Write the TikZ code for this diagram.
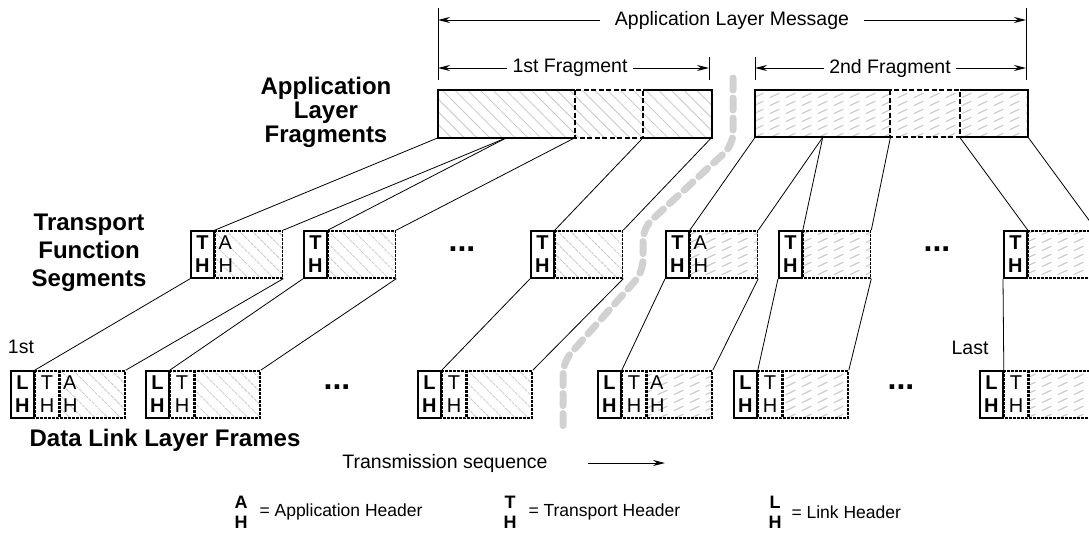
\documentclass[tikz,border=0pt]{standalone}
\usepackage{fontspec}
\setmainfont{Liberation Sans}
\usetikzlibrary{positioning,arrows.meta,patterns,patterns.meta}

% dashed slanted hatch for the second fragment
\pgfdeclarepatternformonly{slashdash}{\pgfpointorigin}{\pgfpoint{16pt}{8pt}}{\pgfpoint{16pt}{8pt}}{%
  \pgfsetlinewidth{1.3pt}%
  \pgfpathmoveto{\pgfpoint{2pt}{1.5pt}}%
  \pgfpathlineto{\pgfpoint{12pt}{6.5pt}}%
  \pgfusepath{stroke}}

\begin{document}
\begin{tikzpicture}[x=1pt, y=-1pt,
    lbl/.style = {inner ysep=0pt, font=\fontsize{19.5}{23}\selectfont},
    layer/.style = {align=center, font=\bfseries\fontsize{24}{24}\selectfont},
    dim/.style = {line width=1pt, -{Stealth[length=12pt,width=6pt]}},
    tick/.style = {line width=1pt},
    conn/.style = {line width=0.8pt},
    hatchA/.style = {pattern={Lines[angle=-45,distance=9pt,line width=0.8pt]}, pattern color=black!22},
    hatchB/.style = {pattern=slashdash, pattern color=black!20},
    bar/.style = {minimum height=47pt, inner sep=0pt},
    barline/.style = {line width=2pt},
    bardash/.style = {line width=2pt, dash pattern=on 5pt off 2.5pt},
    hbox/.style = {draw, line width=1.8pt, fill=white, minimum width=23pt, minimum height=47pt,
                   inner sep=0pt, align=center, font=\fontsize{20}{23}\selectfont},
    hboxb/.style = {hbox, font=\bfseries\fontsize{20}{23}\selectfont},
    hdash/.style = {hbox, line width=1.5pt, dash pattern=on 3pt off 1pt},
    data/.style = {draw, line width=1.5pt, dash pattern=on 3pt off 1pt, minimum height=47pt,
                   text width=61pt, inner xsep=3pt, inner ysep=0pt, align=left,
                   font=\fontsize{20}{23}\selectfont},
    fdata/.style = {data, text width=59pt},
    dots/.style = {font=\bfseries\fontsize{32}{32}\selectfont},
    seqpath/.style = {line width=7pt, black!18, dash pattern=on 12pt off 8pt, line cap=round, rounded corners=12pt},
    key/.style = {font=\fontsize{17.5}{20}\selectfont},
    keyb/.style = {align=center, font=\bfseries\fontsize{18}{20}\selectfont}]
\useasboundingbox (0,0) rectangle (1089,539);

% transmission order
\draw[seqpath] (733,78) -- (733,145) -- (643,228) -- (643,272) -- (563,362) -- (563,432);

% dimension lines
\coordinate (mL) at (438,8);
\coordinate (mLb) at (438,80);
\coordinate (mR) at (1026,8);
\coordinate (mRb) at (1026,80);
\coordinate (f1R) at (709,57);
\coordinate (f1Rb) at (709,80);
\coordinate (f2L) at (755,57);
\coordinate (f2Lb) at (755,80);
\draw[tick] (mL) -- (mLb);
\draw[tick] (mR) -- (mRb);
\draw[tick] (f1R) -- (f1Rb);
\draw[tick] (f2L) -- (f2Lb);
\node[lbl, inner xsep=15pt] (msg) at (732,20) {Application Layer Message};
\draw[dim] (msg.west) -- (msg.west -| mL);
\draw[dim] (msg.east) -- (msg.east -| mR);
\node[lbl, inner xsep=5pt] (fr1) at (570,68) {1st Fragment};
\draw[dim] (fr1.west) -- (fr1.west -| mL);
\draw[dim] (fr1.east) -- (fr1.east -| f1R);
\node[lbl, inner xsep=5pt] (fr2) at (890,68) {2nd Fragment};
\draw[dim] (fr2.west) -- (fr2.west -| f2L);
\draw[dim] (fr2.east) -- (fr2.east -| mR);

% application layer fragments
\node[bar, hatchA, minimum width=136pt, anchor=north west] (p1a) at (438,90) {};
\node[bar, hatchA, minimum width=68pt, right=0pt of p1a] (p1b) {};
\node[bar, hatchA, minimum width=68pt, right=0pt of p1b] (p1c) {};
\draw[barline] (p1a.north east) -| (p1a.south west) -- (p1a.south east);
\draw[barline] (p1c.north west) -- (p1c.north east) |- (p1c.south west);
\draw[bardash] (p1b.north west) rectangle (p1b.south east);
\node[bar, hatchB, minimum width=135pt, anchor=north west] (p2a) at (755,90) {};
\node[bar, hatchB, minimum width=69pt, right=0pt of p2a] (p2b) {};
\node[bar, hatchB, minimum width=68pt, right=0pt of p2b] (p2c) {};
\draw[barline] (p2a.north east) -| (p2a.south west) -- (p2a.south east);
\draw[barline] (p2c.north west) -- (p2c.north east) |- (p2c.south west);
\draw[bardash] (p2b.north west) rectangle (p2b.south east);

% transport function segments
\node[hboxb, anchor=north west] (s1t) at (190,230) {T\\H};
\node[data, hatchA, right=0pt of s1t] (s1d) {A\\H};
\node[hboxb, anchor=north west] (s2t) at (303,230) {T\\H};
\node[data, hatchA, right=0pt of s2t] (s2d) {};
\node[dots] (sdots1) at (462,249) {...};
\node[hboxb, anchor=north west] (s3t) at (530,230) {T\\H};
\node[data, hatchA, right=0pt of s3t] (s3d) {};
\node[hboxb, anchor=north west] (s4t) at (665,230) {T\\H};
\node[data, hatchB, right=0pt of s4t] (s4d) {A\\H};
\node[hboxb, anchor=north west] (s5t) at (778,230) {T\\H};
\node[data, hatchB, right=0pt of s5t] (s5d) {};
\node[dots] (sdots2) at (937,249) {...};
\node[hboxb, anchor=north west] (s6t) at (1003,230) {T\\H};
\node[data, hatchB, right=0pt of s6t] (s6d) {};

% data link layer frames
\node[hboxb, anchor=north west] (f1l) at (10,370) {L\\H};
\node[hdash, right=0pt of f1l] (f1t) {T\\H};
\node[fdata, hatchA, right=0pt of f1t] (f1d) {A\\H};
\node[hboxb, anchor=north west] (f2l) at (145,370) {L\\H};
\node[hdash, right=0pt of f2l] (f2t) {T\\H};
\node[fdata, hatchA, right=0pt of f2t] (f2d) {};
\node[dots] (fdots1) at (337,387) {...};
\node[hboxb, anchor=north west] (f3l) at (417,370) {L\\H};
\node[hdash, right=0pt of f3l] (f3t) {T\\H};
\node[fdata, hatchA, right=0pt of f3t] (f3d) {};
\node[hboxb, anchor=north west] (f4l) at (597,370) {L\\H};
\node[hdash, right=0pt of f4l] (f4t) {T\\H};
\node[fdata, hatchB, right=0pt of f4t] (f4d) {A\\H};
\node[hboxb, anchor=north west] (f5l) at (733,370) {L\\H};
\node[hdash, right=0pt of f5l] (f5t) {T\\H};
\node[fdata, hatchB, right=0pt of f5t] (f5d) {};
\node[dots] (fdots2) at (901,387) {...};
\node[hboxb, anchor=north west] (f6l) at (979,370) {L\\H};
\node[hdash, right=0pt of f6l] (f6t) {T\\H};
\node[fdata, hatchB, right=0pt of f6t] (f6d) {};

% fragments -> segments
\draw[conn] (p1a.south west) -- (s1d.north west);
\draw[conn] (p1a.south) -- (s1d.north east);
\draw[conn] (p1a.south) -- (s2d.north west);
\draw[conn] (p1a.south east) -- (s2d.north east);
\draw[conn] (p1c.south west) -- (s3d.north west);
\draw[conn] (p1c.south east) -- (s3d.north east);
\draw[conn] (p2a.south west) -- (s4d.north west);
\draw[conn] (p2a.south) -- (s4d.north east);
\draw[conn] (p2a.south) -- (s5d.north west);
\draw[conn] (p2a.south east) -- (s5d.north east);
\draw[conn] (p2c.south west) -- (s6d.north west);
\draw[conn] (p2c.south east) -- (s6d.north east);

% segments -> frames
\draw[conn] (s1t.south west) -- (f1t.north west);
\draw[conn] (s1d.south east) -- (f1d.north east);
\draw[conn] (s2t.south west) -- (f2t.north west);
\draw[conn] (s2d.south east) -- (f2d.north east);
\draw[conn] (s3t.south west) -- (f3t.north west);
\draw[conn] (s3d.south east) -- (f3d.north east);
\draw[conn] (s4t.south west) -- (f4t.north west);
\draw[conn] (s4d.south east) -- (f4d.north east);
\draw[conn] (s5t.south west) -- (f5t.north west);
\draw[conn] (s5d.south east) -- (f5d.north east);
\draw[conn] (s6t.south west) -- (f6t.north west);
\draw[conn] (s6d.south east) -- (f6d.north east);

% layer names
\node[layer] (appl) at (326,112) {Application\\Layer\\Fragments};
\node[layer, font=\bfseries\fontsize{24}{28}\selectfont] (tfs) at (89,253) {Transport\\Function\\Segments};
\node[layer] (dll) at (165,440) {Data Link Layer Frames};
\node[lbl] (first) at (21,347) {1st};
\node[lbl] (last) at (970,348) {Last};

% transmission sequence
\node[lbl] (txseq) at (445,463) {Transmission sequence};
\coordinate (txend) at (665,463);
\draw[dim] ([xshift=37pt]txseq.east) -- (txend);

% key
\node[keyb] (kA) at (241,512) {A\\H};
\node[key, anchor=west] (kAt) at (256,512) {= Application Header};
\node[keyb] (kT) at (510,512) {T\\H};
\node[key, anchor=west] (kTt) at (525,512) {= Transport Header};
\node[keyb] (kL) at (775,512) {L\\H};
\node[key, anchor=west] (kLt) at (788,512) {= Link Header};
\end{tikzpicture}
\end{document}
